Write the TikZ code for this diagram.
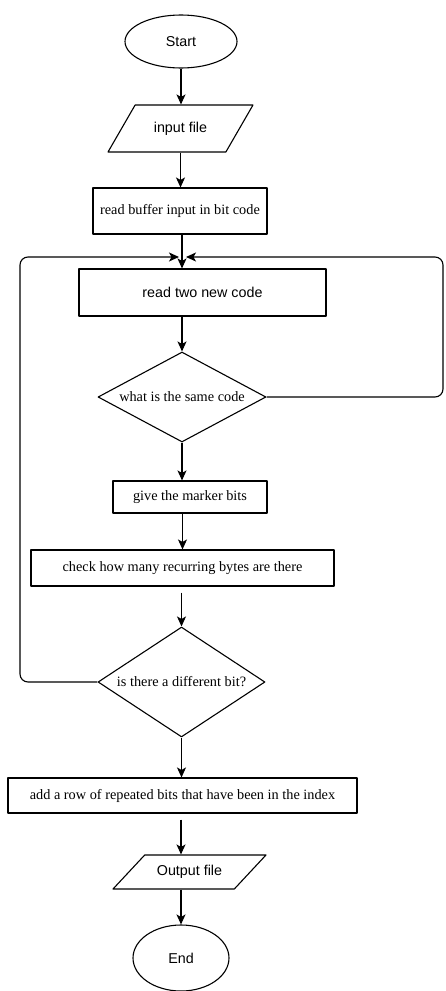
\documentclass[tikz,border=0pt]{standalone}
\usepackage{fontspec}
\setmainfont{Liberation Serif}
\setsansfont{Liberation Sans}
\usetikzlibrary{shapes.geometric,arrows.meta}
\begin{document}
\begin{tikzpicture}[x=1pt, y=-1pt, line width=1.1pt, line join=round,
    every node/.style={font=\fontsize{14.3}{16}\selectfont, inner sep=0pt},
    term/.style={draw, ellipse, font=\sffamily\fontsize{14.3}{16}\selectfont},
    io/.style={draw, trapezium, trapezium stretches body, text height=10pt, text depth=3pt,
      font=\sffamily\fontsize{14.3}{16}\selectfont},
    proc/.style={draw, rectangle},
    ask/.style={draw, diamond},
    arr/.style={-{Stealth[length=10pt,width=9pt,inset=2.5pt]}}]
  \useasboundingbox (0,0) rectangle (445,991);
  % the main column, top to bottom
  \node[term, minimum width=112pt, minimum height=53pt] (start) at (181,41.5) {Start};
  \node[io, trapezium left angle=60, trapezium right angle=120, inner ysep=17pt, minimum width=145pt] (input) at (180.5,128.5) {input file};
  \node[proc, minimum width=174pt, minimum height=46pt] (buffer) at (180,211) {read buffer input in bit code};
  \node[proc, font=\sffamily\fontsize{14.3}{16}\selectfont, minimum width=247pt, minimum height=47pt] (twonew) at (202.5,292.5) {read two new code};
  \node[ask, aspect=1.87, minimum width=168pt, minimum height=90pt] (same) at (182,397) {what is the same code};
  \node[proc, minimum width=154pt, minimum height=32pt] (marker) at (190,497) {give the marker bits};
  \node[proc, minimum width=303pt, minimum height=36pt] (check) at (182.5,568) {check how many recurring bytes are there};
  \node[ask, aspect=1.52, minimum width=167pt, minimum height=110pt] (diff) at (181.5,682) {is there a different bit?};
  \node[proc, minimum width=349pt, minimum height=35pt] (addrow) at (182.5,795.5) {add a row of repeated bits that have been in the index};
  \node[io, trapezium left angle=47, trapezium right angle=133, inner ysep=10.5pt, minimum width=153pt] (output) at (189.5,872) {Output file};
  \node[term, minimum width=96pt, minimum height=66pt] (finish) at (181,958) {End};
  % straight arrows
  \draw[arr] (start.south) -- (start.south |- input.north);
  \draw[arr] (input.south) -- (input.south |- buffer.north);
  \draw[arr] (same.north |- buffer.south) -- (same.north |- twonew.north);
  \draw[arr] (same.north |- twonew.south) -- (same.north);
  \draw[arr] (same.south) -- (same.south |- marker.north);
  \draw[arr] (check.north |- marker.south) -- (check.north);
  \draw[arr, shorten <=6pt] (diff.north |- check.south) -- (diff.north);
  \draw[arr] (diff.south) -- (diff.south |- addrow.north);
  \draw[arr, shorten <=6pt] (finish.north |- addrow.south) -- (finish.north |- output.north);
  \draw[arr] (finish.north |- output.south) -- (finish.north);
  % the two loops back to the top of the cycle
  \coordinate (joinL) at (179,257);
  \coordinate (joinR) at (186,257);
  \coordinate (cornerL) at (20,257);
  \coordinate (cornerR) at (443,257);
  \draw[arr, rounded corners=8pt] (diff.west) -| (cornerL) -- (joinL);
  \draw[arr, rounded corners=8pt] (same.east) -| (cornerR) -- (joinR);
\end{tikzpicture}
\end{document}
